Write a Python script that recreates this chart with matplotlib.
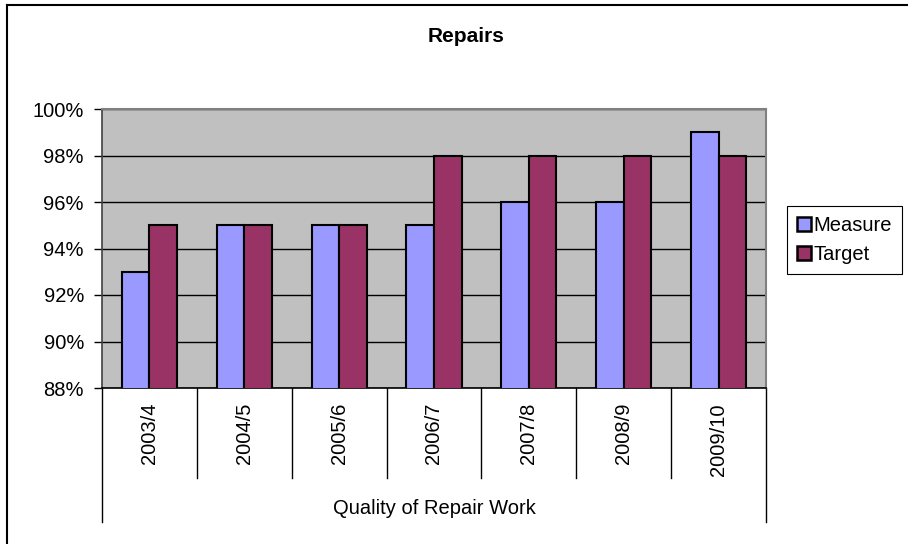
import matplotlib
matplotlib.use("Agg")
import matplotlib.pyplot as plt
from matplotlib.patches import Patch
from matplotlib.lines import Line2D
import numpy as np

categories = ["2003/4", "2004/5", "2005/6", "2006/7", "2007/8", "2008/9", "2009/10"]
measure = [93, 95, 95, 95, 96, 96, 99]
target = [95, 95, 95, 98, 98, 98, 98]
yticks = [88, 90, 92, 94, 96, 98, 100]
title = "Repairs"
group_label = "Quality of Repair Work"
series_names = ["Measure", "Target"]

plt.rcParams['font.family'] = ['Liberation Sans', 'DejaVu Sans']
FS = 14.5

W, H = 908, 544
fig = plt.figure(figsize=(W / 100, H / 100), dpi=100)

L, R, T, B = 102, 766, 109, 388
ax = fig.add_axes([L / W, 1 - B / H, (R - L) / W, (B - T) / H])
ax.set_facecolor("#C0C0C0")

x = np.arange(len(categories))
bw = 0.29
ax.bar(x - bw / 2, measure, bw, bottom=0, color="#9999FF", edgecolor="black", linewidth=1.5, zorder=3)
ax.bar(x + bw / 2, target, bw, bottom=0, color="#993366", edgecolor="black", linewidth=1.5, zorder=3)

ax.set_ylim(88, 100)
ax.set_xlim(-0.5, len(categories) - 0.5)
ax.set_yticks(yticks)
ax.set_yticklabels([f"{v}%" for v in yticks], fontsize=FS)
ax.yaxis.grid(True, color="black", linewidth=1.0, zorder=1)
ax.set_axisbelow(True)
ax.tick_params(axis="y", direction="out", length=6, width=1, color="black", pad=7)
ax.set_xticks([])

for s in ["top", "right"]:
    ax.spines[s].set_color("#808080")
    ax.spines[s].set_linewidth(1.5)
ax.spines["left"].set_color("#404040")
ax.spines["left"].set_linewidth(1.2)
ax.spines["bottom"].set_color("black")
ax.spines["bottom"].set_linewidth(1.2)

trans = ax.get_xaxis_transform()
ph = B - T
sep_y = (B - 478) / ph
out_y = (B - 522) / ph
for i in range(1, len(categories)):
    ax.plot([i - 0.5, i - 0.5], [0, sep_y], transform=trans, color="black", lw=1, clip_on=False)
for xe in [-0.5, len(categories) - 0.5]:
    ax.plot([xe, xe], [0, out_y], transform=trans, color="black", lw=1, clip_on=False)

lab_y = (B - 403) / ph
for i, c in enumerate(categories):
    ax.text(i, lab_y, c, transform=trans, rotation=90, ha="center", va="top", fontsize=FS)

fig.text((L + R) / 2 / W, 1 - 508 / H, group_label, ha="center", va="center", fontsize=FS)
t = fig.text(466 / W, 1 - 37 / H, title, ha="center", va="center", fontsize=15, fontweight="bold")

# chart border (top and left)
fig.add_artist(Line2D([7 / W, 7 / W], [0, 1 - 5 / H], transform=fig.transFigure, color="black", lw=1.5))
fig.add_artist(Line2D([7 / W, 1], [1 - 5 / H, 1 - 5 / H], transform=fig.transFigure, color="black", lw=1.5))

handles = [Patch(facecolor="#9999FF", edgecolor="black", linewidth=1.8),
           Patch(facecolor="#993366", edgecolor="black", linewidth=1.8)]
leg = fig.legend(handles, series_names, loc="upper left",
                 bbox_to_anchor=(787 / W, 1 - 206 / H), fontsize=FS,
                 handlelength=0.7, handleheight=0.7, handletextpad=0.1,
                 borderpad=0.5, labelspacing=0.5, fancybox=False,
                 edgecolor="black", framealpha=1, borderaxespad=0)
leg.get_frame().set_linewidth(0.8)

fig.savefig("out.png", dpi=100, facecolor="white")
